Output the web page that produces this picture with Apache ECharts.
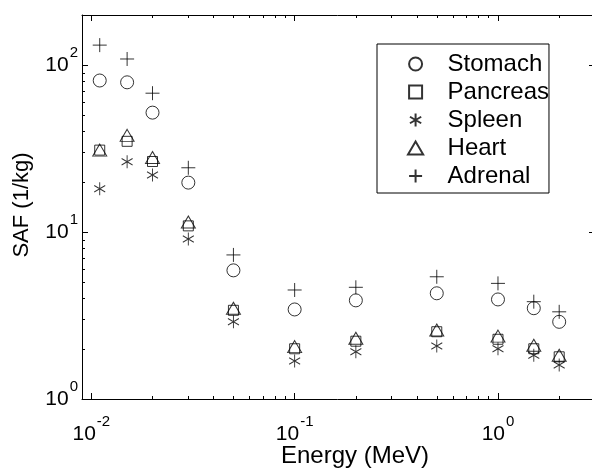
<!DOCTYPE html>
<html>
<head>
<meta charset="utf-8">
<script src="https://cdn.jsdelivr.net/npm/echarts@6/dist/echarts.min.js"></script>
<style>
  html, body { margin: 0; padding: 0; background: #fff; }
  #chart { width: 592px; height: 469px; }
</style>
</head>
<body>
<div id="chart"></div>
<script>
// photon energies (MeV)
const energy = [0.011, 0.015, 0.02, 0.03, 0.05, 0.1, 0.2, 0.5, 1, 1.5, 2]
// SAF values (1/kg)
const stomach = [81, 79, 52, 19.8, 5.9, 3.44, 3.9, 4.3, 3.95, 3.5, 2.9]
const pancreas = [31, 35, 26.5, 10.9, 3.4, 2.0, 2.22, 2.53, 2.28, 2.0, 1.79]
const spleen = [18.2, 26.4, 22, 9.1, 2.9, 1.69, 1.92, 2.08, 2.0, 1.83, 1.6]
const heart = [31, 38, 28, 11.5, 3.5, 2.06, 2.31, 2.59, 2.38, 2.1, 1.83]
const adrenal = [132, 109, 68, 24.3, 7.3, 4.5, 4.67, 5.4, 4.93, 3.83, 3.33]

// tick positions
const xMajor = [0.01, 0.1, 1]
const xMinor = [0.02, 0.03, 0.04, 0.05, 0.06, 0.07, 0.08, 0.09,
  0.2, 0.3, 0.4, 0.5, 0.6, 0.7, 0.8, 0.9, 2, 3]
const yMajor = [1, 10, 100]
const yMinor = [2, 3, 4, 5, 6, 7, 8, 9, 20, 30, 40, 50, 60, 70, 80, 90, 200]

const FONT = "'Liberation Sans', Arial, Helvetica, sans-serif"

function pow10Label(v) {
  const e = Math.round(Math.log10(v))
  return '{b|10}{e|' + e + '}'
}

const richLabel = {
  b: { fontSize: 21, fontFamily: FONT, color: '#000', lineHeight: 40, verticalAlign: 'middle' },
  e: { fontSize: 15, fontFamily: FONT, color: '#000', lineHeight: 15, verticalAlign: 'top', padding: [0, 0, 0, 1] }
}

// marker shapes
const square = 'path://M-5,-5L5,-5L5,5L-5,5Z'
const triangle = 'path://M0,0L7,12L-7,12Z'
const asterisk = 'path://M0,-10L0,10M-8.66,-5L8.66,5M-8.66,5L8.66,-5'
const plus = 'path://M0,-10L0,10M-10,0L10,0'

const chart = echarts.init(document.getElementById('chart'))

function pts(arr) {
  return energy.map((e, i) => [e, arr[i]])
}

function mk(name, arr, symbol, size) {
  return {
    name: name,
    type: 'scatter',
    xAxisIndex: 0,
    yAxisIndex: 0,
    symbol: symbol,
    symbolSize: size,
    itemStyle: { color: 'transparent', borderColor: '#000', borderWidth: 1 },
    emphasis: { disabled: true },
    data: pts(arr)
  }
}

function xAxisCfg(pos, ticks, len, labels) {
  return {
    type: 'log',
    logBase: 10,
    position: pos,
    min: 0.009,
    max: 3,
    axisLine: { show: len > 4, onZero: false, lineStyle: { color: '#000', width: 1 } },
    axisTick: { inside: true, length: len, customValues: ticks, lineStyle: { color: '#000' } },
    axisLabel: {
      show: labels,
      customValues: xMajor,
      formatter: pow10Label,
      margin: 15,
      rich: richLabel
    },
    splitLine: { show: false }
  }
}

function yAxisCfg(pos, ticks, len, labels, name) {
  return {
    type: 'log',
    logBase: 10,
    position: pos,
    min: 1,
    max: 200,
    name: name || '',
    nameLocation: 'middle',
    nameGap: 49,
    nameTextStyle: { fontSize: 22, fontFamily: FONT, color: '#000', padding: [0, 0, 0, 4] },
    axisLine: { show: len > 4, onZero: false, lineStyle: { color: '#000', width: 1 } },
    axisTick: { inside: true, length: len, customValues: ticks, lineStyle: { color: '#000' } },
    axisLabel: {
      show: labels,
      customValues: yMajor,
      formatter: pow10Label,
      margin: 4,
      rich: richLabel
    },
    splitLine: { show: false }
  }
}

chart.setOption({
  backgroundColor: '#FFFFFF',
  animation: false,
  // x axis title, placed like the xlabel of the figure
  title: {
    text: 'Energy (MeV)',
    left: 281,
    top: 444,
    padding: 0,
    textStyle: { fontSize: 24, fontWeight: 'normal', fontFamily: FONT, color: '#000' }
  },
  grid: { left: 82, right: -3, top: 15, bottom: 70, containLabel: false, outerBoundsMode: 'none' },
  legend: {
    orient: 'vertical',
    left: 377,
    top: 44,
    padding: [8, 0, 5, 30],
    itemWidth: 54,
    itemHeight: 13,
    itemGap: 4,
    symbolKeepAspect: true,
    borderColor: '#000',
    borderWidth: 1,
    backgroundColor: '#fff',
    textStyle: { fontSize: 24, fontFamily: FONT, color: '#000' },
    data: ['Stomach', 'Pancreas', 'Spleen', 'Heart', 'Adrenal']
  },
  xAxis: [
    xAxisCfg('bottom', xMajor, 6, true),
    xAxisCfg('top', xMajor, 6, false),
    xAxisCfg('bottom', xMinor, 3, false),
    xAxisCfg('top', xMinor, 3, false)
  ],
  yAxis: [
    yAxisCfg('left', yMajor, 6, true),
    yAxisCfg('right', yMajor, 6, false),
    yAxisCfg('left', yMinor, 3, false, 'SAF (1/kg)'),
    yAxisCfg('right', yMinor, 3, false)
  ],
  series: [
    mk('Stomach', stomach, 'circle', 13),
    mk('Pancreas', pancreas, square, 10),
    mk('Spleen', spleen, asterisk, [11, 13]),
    mk('Heart', heart, triangle, [14, 12]),
    mk('Adrenal', adrenal, plus, 14)
  ]
})
</script>
</body>
</html>
